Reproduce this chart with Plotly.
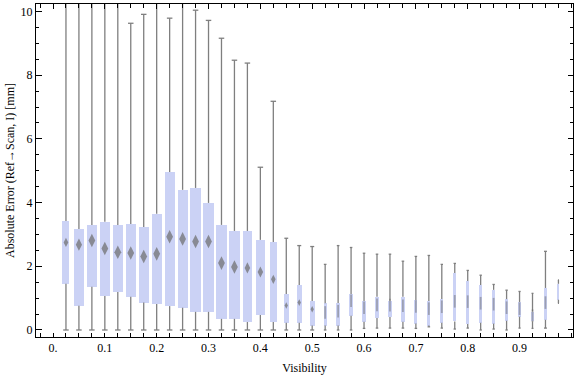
import plotly.graph_objects as go

# ---------------- data ----------------
visibility = [0.025, 0.05, 0.075, 0.1, 0.125, 0.15, 0.175, 0.2, 0.225, 0.25,
              0.275, 0.3, 0.325, 0.35, 0.375, 0.4, 0.425, 0.45, 0.475, 0.5,
              0.525, 0.55, 0.575, 0.6, 0.625, 0.65, 0.675, 0.7, 0.725, 0.75,
              0.775, 0.8, 0.825, 0.85, 0.875, 0.9, 0.925, 0.95, 0.975]

whisker_low = [0, 0, 0, 0, 0, 0, 0, 0, 0, 0,
               0, 0, 0, 0, 0, 0, 0, 0, 0, 0,
               0, 0, 0, 0.05, 0.06, 0.06, 0.06, 0.05, 0.1, 0.06,
               0.03, 0.06, 0.0, 0.03, 0.0, 0.06, 0.05, 0.06, 0.84]

q1 = [1.45, 0.76, 1.36, 1.07, 1.19, 1.04, 0.86, 0.82, 0.75, 0.70,
      0.57, 0.57, 0.35, 0.35, 0.25, 0.47, 0.25, 0.23, 0.23, 0.14,
      0.14, 0.14, 0.45, 0.26, 0.38, 0.41, 0.26, 0.20, 0.14, 0.23,
      0.27, 0.19, 0.23, 0.20, 0.29, 0.42, 0.27, 0.32, 0.95]

median = [2.75, 2.68, 2.81, 2.56, 2.44, 2.42, 2.31, 2.39, 2.93, 2.86,
          2.78, 2.78, 2.10, 1.98, 1.95, 1.82, 1.59, 0.77, 0.86, 0.65,
          0.55, 0.59, 0.92, 0.70, 0.79, 0.78, 0.76, 0.74, 0.67, 0.73,
          0.90, 0.89, 0.84, 0.81, 0.70, 0.67, 0.45, 0.86, 1.20]

q3 = [3.42, 3.17, 3.30, 3.40, 3.30, 3.33, 3.23, 3.65, 4.96, 4.40,
      4.46, 3.99, 3.30, 3.11, 3.11, 2.83, 2.76, 1.13, 1.41, 0.91,
      0.84, 0.85, 1.13, 0.91, 1.04, 0.92, 1.04, 0.94, 0.91, 0.97,
      1.79, 1.54, 1.41, 1.26, 0.97, 0.88, 0.58, 1.32, 1.45]

whisker_high = [11.0, 11.0, 11.0, 11.0, 11.0, 9.63, 9.91, 10.29, 9.79, 10.26,
                10.04, 9.72, 9.16, 8.47, 8.38, 5.11, 7.18, 2.88, 2.65, 2.62,
                2.06, 2.65, 2.59, 2.41, 2.38, 2.38, 2.16, 2.31, 2.34, 2.06,
                2.09, 1.87, 1.72, 1.43, 1.25, 1.21, 1.15, 2.47, 1.57]

# drawn box widths (pixels) as they appear in the reference
box_width_px = [7.0, 9.3, 10.2, 10.2, 10.2, 10.2, 10.2, 10.2, 10.2, 10.2,
                10.2, 10.2, 10.2, 10.2, 8.3, 8.3, 7.0, 4.8, 5.0, 5.0,
                3.3, 3.3, 3.2, 3.2, 3.2, 3.2, 3.2, 3.2, 3.2, 3.0,
                3.0, 3.0, 3.0, 3.0, 3.0, 2.7, 2.4, 3.7, 1.2]

x_tick_vals = [0.0, 0.1, 0.2, 0.3, 0.4, 0.5, 0.6, 0.7, 0.8, 0.9]
x_tick_text = ["0.", "0.1", "0.2", "0.3", "0.4", "0.5", "0.6", "0.7", "0.8", "0.9"]
y_tick_vals = [0, 2, 4, 6, 8, 10]
y_tick_text = ["0", "2", "4", "6", "8", "10"]

# ---------------- layout geometry ----------------
W, H = 576, 377
ML, MR, MT, MB = 36, 3, 4, 40
x_range = [-0.0328, 1.0031]
y_range = [-0.22, 10.235]
px_per_x = (W - ML - MR) / (x_range[1] - x_range[0])

BOX_COLOR = "#CBD2F5"
WHISKER_COLOR = "#7f7f7f"
MEDIAN_COLOR = "#6b6b6b"
FONT = "Liberation Serif, Times New Roman, serif"

# whiskers (from box edges to the extremes) with caps
wx, wy = [], []
for v, lo, a, b, hi, w in zip(visibility, whisker_low, q1, q3, whisker_high, box_width_px):
    c = min(0.8 * w, 5.5) / 2 / px_per_x
    wx += [v, v, None, v, v, None, v - c, v + c, None, v - c, v + c, None]
    wy += [lo, a, None, b, hi, None, lo, lo, None, hi, hi, None]

fig = go.Figure()
fig.add_trace(go.Scatter(
    x=wx, y=wy, mode="lines",
    line=dict(color=WHISKER_COLOR, width=1.3),
    hoverinfo="skip", showlegend=False,
))
fig.add_trace(go.Bar(
    x=visibility,
    y=[b - a for a, b in zip(q1, q3)],
    base=q1,
    width=[w / px_per_x for w in box_width_px],
    marker=dict(color=BOX_COLOR, line=dict(width=0)),
    showlegend=False,
))

symbols, sizes, lws = [], [], []
for w in box_width_px:
    if w >= 4.5:
        symbols.append("diamond-tall")
        sizes.append(min(10, 0.95 * w))
        lws.append(0)
    else:
        symbols.append("line-ns")
        sizes.append(9 if w > 2 else 0)
        lws.append(1.8)

fig.add_trace(go.Scatter(
    x=visibility, y=median, mode="markers",
    marker=dict(symbol=symbols, size=sizes, color=MEDIAN_COLOR,
                line=dict(width=lws, color="rgba(100,100,100,0.65)")),
    showlegend=False,
))

fig.update_layout(
    width=W, height=H,
    margin=dict(l=ML, r=MR, t=MT, b=MB, autoexpand=False),
    paper_bgcolor="white", plot_bgcolor="white",
    font=dict(family=FONT, size=12, color="black"),
    bargap=0,
)
fig.update_xaxes(
    range=x_range, showgrid=False, zeroline=False, automargin=False,
    showline=True, linecolor="black", linewidth=1, mirror="allticks",
    ticks="inside", ticklen=4.5, tickwidth=1, tickcolor="black",
    tickvals=x_tick_vals, ticktext=x_tick_text,
    minor=dict(ticks="inside", tick0=0, dtick=0.025, ticklen=4, tickcolor="black", showgrid=False),
    title=dict(text="Visibility", standoff=9, font=dict(size=12)),
    tickfont=dict(size=12),
)
fig.update_yaxes(
    range=y_range, showgrid=False, zeroline=False, automargin=False,
    showline=True, linecolor="black", linewidth=1, mirror="allticks",
    ticks="inside", ticklen=5.5, tickwidth=1, tickcolor="black",
    tickvals=y_tick_vals, ticktext=y_tick_text,
    minor=dict(ticks="inside", tick0=0, dtick=0.5, ticklen=3, tickcolor="black", showgrid=False),
    title=dict(text="Absolute Error (Ref\u2192Scan, I) [mm]", standoff=3, font=dict(size=12)),
    tickfont=dict(size=12),
)

fig.write_html("out.html",
               config={"displayModeBar": False},
               post_script="document.body.style.margin='0';document.body.style.padding='0';")
